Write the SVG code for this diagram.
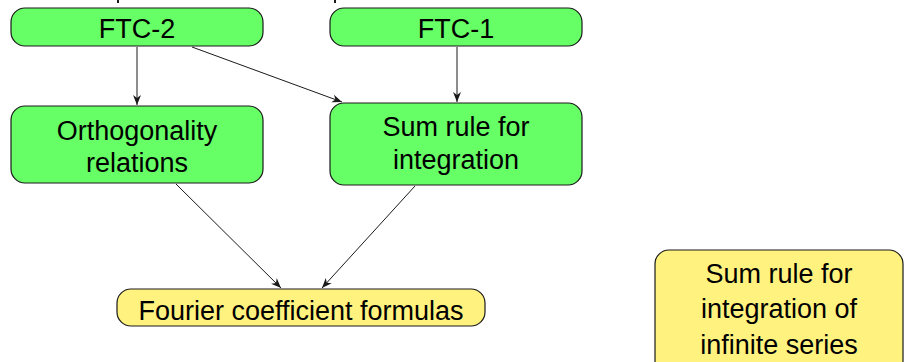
<svg xmlns="http://www.w3.org/2000/svg" width="904" height="362" viewBox="0 0 904 362">
  <style>
    .green { fill: #66ff66; stroke: #1a1a1a; stroke-width: 1.2; }
    .yellow { fill: #fff27f; stroke: #1a1a1a; stroke-width: 1.2; }
    .label { font-family: "Liberation Sans", Arial, sans-serif; font-size: 27px; fill: #000; text-anchor: middle; }
    .edge { stroke: #1a1a1a; stroke-width: 1; fill: none; marker-end: url(#arrow); }
  </style>
  <defs>
    <marker id="arrow" viewBox="0 0 10 10" refX="10" refY="5" markerWidth="10" markerHeight="10" markerUnits="userSpaceOnUse" orient="auto">
      <path d="M0,1 L10,5 L0,9 L3,5 Z" fill="#1a1a1a"/>
    </marker>
  </defs>
  <rect width="904" height="362" fill="#ffffff"/>

  <!-- descender fragments of a heading above the frame -->
  <rect x="117" y="0" width="2" height="3" fill="#1a1a1a"/>
  <rect x="334" y="0" width="2" height="3" fill="#1a1a1a"/>

  <g id="connectors">
    <line class="edge" x1="137" y1="47" x2="137" y2="105"/>
    <line class="edge" x1="192" y1="47" x2="342" y2="102"/>
    <line class="edge" x1="457" y1="47" x2="457" y2="102"/>
    <line class="edge" x1="176" y1="184" x2="281" y2="288"/>
    <line class="edge" x1="415" y1="186" x2="322" y2="288"/>
  </g>

  <g id="ftc2">
    <rect class="green" x="11" y="8" width="252" height="38" rx="14"/>
    <text class="label" x="137" y="38">FTC-2</text>
  </g>
  <g id="ftc1">
    <rect class="green" x="330" y="8" width="252" height="38" rx="14"/>
    <text class="label" x="456" y="38">FTC-1</text>
  </g>
  <g id="orthogonality">
    <rect class="green" x="11" y="106" width="252" height="77" rx="14"/>
    <text class="label" x="137" y="140">Orthogonality</text>
    <text class="label" x="137" y="172">relations</text>
  </g>
  <g id="sum-rule">
    <rect class="green" x="330" y="103" width="252" height="82" rx="14"/>
    <text class="label" x="456" y="136">Sum rule for</text>
    <text class="label" x="456" y="169">integration</text>
  </g>
  <g id="fourier">
    <rect class="yellow" x="117" y="289" width="368" height="37" rx="14"/>
    <text class="label" x="301" y="320">Fourier coefficient formulas</text>
  </g>
  <g id="sum-rule-series">
    <rect class="yellow" x="655" y="250" width="248" height="125" rx="14"/>
    <text class="label" x="779" y="283">Sum rule for</text>
    <text class="label" x="779" y="318">integration of</text>
    <text class="label" x="779" y="354">infinite series</text>
  </g>
</svg>
